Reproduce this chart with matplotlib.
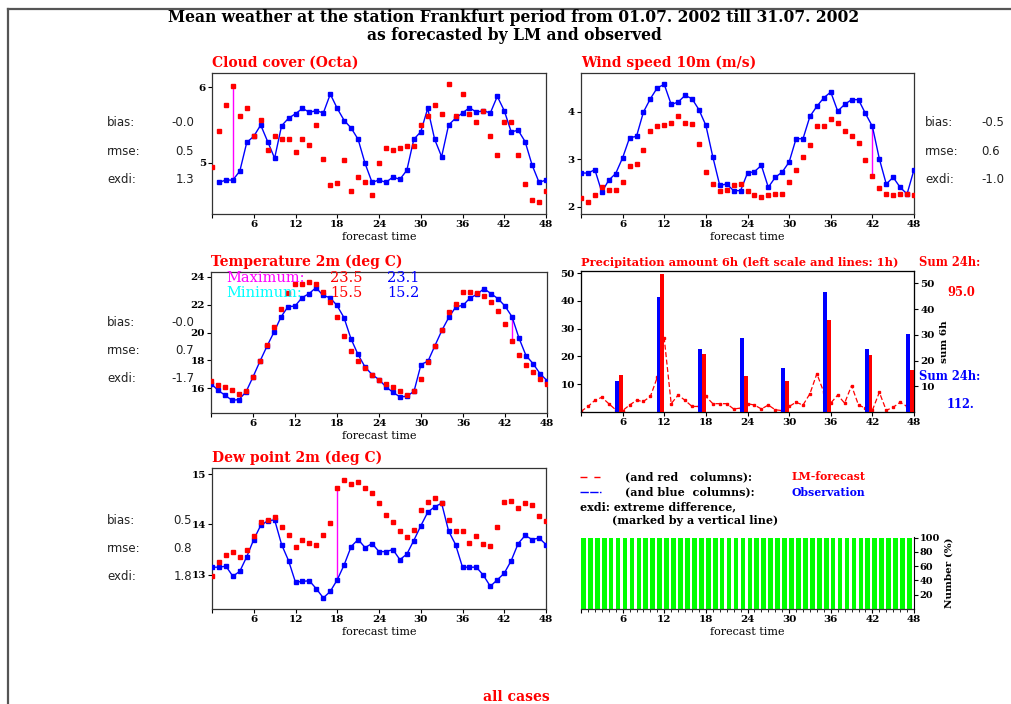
import numpy as np
import matplotlib.pyplot as plt
from matplotlib.lines import Line2D

nan = np.nan
hours = np.arange(49)

# observation (blue) and LM forecast (red), hourly means
cloud_obs = [nan, 4.74, 4.77, 4.77, 4.89, 5.27, 5.35, 5.50, 5.28, 5.06, 5.49, 5.59, 5.65, 5.72, 5.67, 5.69, 5.66,
             5.91, 5.72, 5.56, 5.46, 5.31, 4.99, 4.74, 4.77, 4.74, 4.81, 4.78, 4.90, 5.31, 5.41, 5.72, 5.31, 5.08,
             5.50, 5.59, 5.66, 5.73, 5.67, 5.69, 5.66, 5.88, 5.69, 5.41, 5.43, 5.28, 4.97, 4.74, 4.77]
cloud_fc = [4.94, 5.42, 5.76, 6.02, 5.62, 5.73, 5.36, 5.57, 5.17, 5.35, 5.31, 5.32, 5.14, 5.31, 5.23, 5.50, 5.05,
            4.70, 4.73, 5.04, 4.62, 4.81, 4.75, 4.57, 4.99, 5.19, 5.17, 5.19, 5.22, 5.22, 5.50, 5.62, 5.77, 5.65,
            6.04, 5.62, 5.91, 5.64, 5.54, 5.68, 5.35, 5.10, 5.54, 5.54, 5.10, 4.72, 4.50, 4.48, 4.62]

wind_obs = [2.71, 2.71, 2.78, 2.31, 2.56, 2.70, 3.03, 3.45, 3.48, 3.99, 4.27, 4.50, 4.57, 4.15, 4.20, 4.34, 4.27,
            4.04, 3.71, 3.05, 2.45, 2.48, 2.34, 2.34, 2.71, 2.74, 2.87, 2.41, 2.62, 2.73, 2.94, 3.43, 3.43, 3.90,
            4.11, 4.29, 4.41, 4.01, 4.15, 4.25, 4.25, 3.96, 3.69, 3.01, 2.48, 2.62, 2.41, 2.27, 2.78]
wind_fc = [2.19, 2.10, 2.24, 2.42, 2.36, 2.36, 2.52, 2.85, 2.90, 3.19, 3.59, 3.69, 3.71, 3.76, 3.90, 3.76, 3.73,
           3.31, 2.74, 2.47, 2.34, 2.36, 2.45, 2.48, 2.34, 2.24, 2.21, 2.24, 2.27, 2.27, 2.52, 2.77, 3.05, 3.29,
           3.69, 3.69, 3.85, 3.75, 3.59, 3.48, 3.34, 2.98, 2.64, 2.40, 2.27, 2.24, 2.27, 2.27, 2.24]

temp_obs = [16.34, 15.87, 15.51, 15.15, 15.20, 15.75, 16.82, 17.95, 19.02, 20.03, 21.11, 21.85, 21.89, 22.49,
            22.78, 23.21, 22.66, 22.49, 21.94, 21.06, 19.55, 18.43, 17.54, 16.99, 16.63, 16.11, 15.72, 15.39,
            15.44, 15.79, 17.71, 17.95, 19.07, 20.17, 21.11, 21.85, 21.94, 22.47, 22.73, 23.14, 22.78, 22.42,
            21.89, 21.13, 19.60, 18.35, 17.78, 17.06, 16.56]
temp_fc = [16.56, 16.27, 16.08, 15.87, 15.63, 15.79, 16.80, 17.95, 19.14, 20.41, 21.66, 22.85, 23.45, 23.45,
           23.64, 23.47, 22.92, 22.18, 21.13, 19.74, 18.67, 17.95, 17.47, 16.99, 16.63, 16.34, 16.11, 15.79,
           15.51, 15.79, 16.70, 17.88, 19.02, 20.15, 21.49, 22.06, 22.92, 22.92, 22.85, 22.61, 22.21, 21.54,
           20.58, 19.41, 18.40, 17.68, 17.16, 16.70, 16.32]

dew_obs = [13.15, 13.15, 13.17, 12.97, 13.07, 13.36, 13.70, 13.98, 14.07, 14.09, 13.60, 13.28, 12.85, 12.87,
           12.88, 12.72, 12.54, 12.67, 12.90, 13.20, 13.56, 13.70, 13.54, 13.62, 13.46, 13.46, 13.50, 13.30,
           13.41, 13.68, 13.97, 14.24, 14.35, 14.42, 13.87, 13.60, 13.15, 13.15, 13.15, 12.99, 12.77, 12.90,
           13.03, 13.28, 13.62, 13.78, 13.70, 13.73, 13.60]
dew_fc = [12.97, 13.26, 13.40, 13.46, 13.36, 13.50, 13.77, 14.04, 14.09, 14.14, 13.94, 13.78, 13.56, 13.70,
          13.63, 13.60, 13.79, 14.03, 14.72, 14.89, 14.81, 14.84, 14.72, 14.62, 14.42, 14.18, 14.04, 13.86,
          13.75, 13.89, 14.29, 14.44, 14.52, 14.42, 14.09, 13.86, 13.86, 13.64, 13.77, 13.62, 13.58, 13.95,
          14.44, 14.47, 14.32, 14.42, 14.39, 14.17, 14.07]

# hour of the extreme difference (magenta line)
cloud_exdi_hour = 3
wind_exdi_hour = 42
temp_exdi_hour = 43
dew_exdi_hour = 18

# statistics: bias, rmse, exdi
cloud_stats = ['-0.0', '0.5', '1.3']
wind_stats = ['-0.5', '0.6', '-1.0']
temp_stats = ['-0.0', '0.7', '-1.7']
dew_stats = ['0.5', '0.8', '1.8']

# precipitation
precip_1h_fc = [0.2, 2.0, 4.2, 5.3, 3.0, 0.8, 0.5, 2.5, 4.2, 3.8, 5.6, 12.5, 26.5, 3.0, 6.1, 4.2, 2.0, 2.0,
                5.6, 3.0, 3.0, 3.0, 1.1, 1.4, 3.0, 2.5, 1.1, 2.5, 0.8, 0.5, 2.0, 3.5, 2.5, 6.6, 13.8, 7.1,
                3.2, 6.1, 3.2, 9.5, 2.5, 1.4, 0.6, 7.1, 0.6, 1.7, 3.5, 2.0, 2.0]
sum_hours = [6, 12, 18, 24, 30, 36, 42, 48]
sum6h_obs = [12.2, 44.6, 24.6, 28.6, 17.1, 46.5, 24.6, 30.5]
sum6h_fc = [14.5, 53.8, 22.7, 14.1, 12.1, 35.9, 22.3, 16.4]
sum24h_fc = '95.0'
sum24h_obs = '112.'

# number of cases (%)
number_hours = np.arange(48)
number_pct = [100, 100, 100, 100, 100, 100, 100, 100, 100, 100, 100, 100, 100, 100, 100, 100,
              100, 100, 100, 100, 100, 100, 100, 100, 100, 100, 100, 100, 100, 100, 100, 100,
              100, 100, 100, 100, 100, 100, 100, 100, 100, 100, 100, 100, 100, 100, 100, 100]

temp_max = ['23.5', '23.1']
temp_min = ['15.5', '15.2']

W, H = 1011, 704
RED, BLUE, MAG = '#ff0000', '#0000ff', '#ff00ff'
SERIF = 'DejaVu Serif'

fig = plt.figure(figsize=(W / 100, H / 100), dpi=100)


def rect(l, t, r, b):
    return [l / W, 1 - b / H, (r - l) / W, (b - t) / H]


def ftext(x, y, s, **kw):
    kw.setdefault('va', 'center')
    fig.text(x / W, 1 - y / H, s, **kw)


def style_ax(ax, yticks, xlabel=True):
    ax.set_xlim(0, 48)
    ax.set_xticks(range(0, 49, 6))
    ax.set_xticklabels([''] + [str(v) for v in range(6, 49, 6)])
    ax.set_yticks(yticks)
    ax.tick_params(length=3, width=0.8, pad=1.5, labelsize=7.5)
    for lab in ax.get_xticklabels() + ax.get_yticklabels():
        lab.set_fontfamily(SERIF)
        lab.set_fontweight('bold')
    for sp in ax.spines.values():
        sp.set_linewidth(0.9)
        sp.set_color('#333333')
    if xlabel:
        ax.set_xlabel('forecast time', fontsize=8, family=SERIF, labelpad=2)


def series_panel(box, obs, fc, exdi_hour, ylim, yticks, title):
    ax = fig.add_axes(rect(*box))
    obs = np.array(obs, dtype=float)
    fc = np.array(fc, dtype=float)
    ax.plot(hours, obs, color=BLUE, lw=1.0, marker='s', ms=2.2, zorder=3)
    ax.plot(hours, fc, ls='none', color=RED, marker='s', ms=3.0, zorder=4)
    ax.vlines(exdi_hour, obs[exdi_hour], fc[exdi_hour], color=MAG, lw=1.0, zorder=2)
    ax.set_ylim(*ylim)
    style_ax(ax, yticks)
    ftext(box[0], box[1] - 10, title, color=RED, fontsize=10, family=SERIF, fontweight='bold')
    return ax


def stats(x_lab, x_val, y0, vals, ha='right'):
    for i, (lab, v) in enumerate(zip(['bias:', 'rmse:', 'exdi:'], vals)):
        ftext(x_lab, y0 + i * 28.3, lab, fontsize=8.5, color='#222222')
        ftext(x_val, y0 + i * 28.3, v, fontsize=8.5, color='#222222', ha=ha)


# frame and titles
fig.add_artist(Line2D([7.5 / W, 7.5 / W], [0, 1 - 9 / H], color='#555555', lw=1.6))
fig.add_artist(Line2D([7.5 / W, 1], [1 - 9 / H, 1 - 9 / H], color='#555555', lw=1.6))
ftext(514, 18, 'Mean weather at the station Frankfurt period from 01.07. 2002 till 31.07. 2002',
      ha='center', fontsize=11.2, family=SERIF, fontweight='bold')
ftext(514, 36, 'as forecasted by LM and observed', ha='center', fontsize=11.2, family=SERIF, fontweight='bold')

series_panel((212, 73, 546, 214), cloud_obs, cloud_fc, cloud_exdi_hour, (4.32, 6.19), [5, 6],
             'Cloud cover (Octa)')
stats(107, 194, 123, cloud_stats)

series_panel((581, 73, 914, 214), wind_obs, wind_fc, wind_exdi_hour, (1.85, 4.81), [2, 3, 4],
             'Wind speed 10m (m/s)')
stats(925, 981, 123, wind_stats, ha='left')

series_panel((211, 272, 547, 413), temp_obs, temp_fc, temp_exdi_hour, (14.24, 24.33), [16, 18, 20, 22, 24],
             'Temperature 2m (deg C)')
stats(107, 194, 322, temp_stats)
ftext(226, 278, 'Maximum:', color=MAG, fontsize=10.5, family=SERIF)
ftext(330, 278, temp_max[0], color=RED, fontsize=10.5, family=SERIF)
ftext(387, 278, temp_max[1], color=BLUE, fontsize=10.5, family=SERIF)
ftext(226, 293, 'Minimum:', color='#00ffff', fontsize=10.5, family=SERIF)
ftext(330, 293, temp_min[0], color=RED, fontsize=10.5, family=SERIF)
ftext(387, 293, temp_min[1], color=BLUE, fontsize=10.5, family=SERIF)

series_panel((212, 468, 546, 609), dew_obs, dew_fc, dew_exdi_hour, (12.32, 15.12), [13, 14, 15],
             'Dew point 2m (deg C)')
stats(107, 192, 520, dew_stats)

# precipitation panel
axp = fig.add_axes(rect(581, 271, 914, 412))
axp.plot(hours, precip_1h_fc, color=RED, lw=0.9, ls=(0, (4, 2)), marker='s', ms=1.8)
axp.set_ylim(0, 50.8)
style_ax(axp, [10, 20, 30, 40, 50], xlabel=False)
axs = axp.twinx()
sh = np.array(sum_hours)
axs.bar(sh - 1.1, sum6h_obs, width=0.55, align='edge', color=BLUE)
axs.bar(sh - 0.55, sum6h_fc, width=0.55, align='edge', color=RED)
axs.set_ylim(0, 54.8)
axs.set_yticks([10, 20, 30, 40, 50])
axs.tick_params(length=3, width=0.8, pad=1.5, labelsize=7.5)
for lab in axs.get_yticklabels():
    lab.set_fontfamily(SERIF)
    lab.set_fontweight('bold')
axs.set_ylabel('sum 6h', rotation=90, fontsize=7.5, family=SERIF, fontweight='bold', labelpad=4)
ftext(581, 263, 'Precipitation amount 6h (left scale and lines: 1h)', color=RED, fontsize=8.2,
      family=SERIF, fontweight='bold')
ftext(919, 263, 'Sum 24h:', color=RED, fontsize=8.3, family=SERIF, fontweight='bold')
ftext(947, 292, sum24h_fc, color=RED, fontsize=8.3, family=SERIF, fontweight='bold')
ftext(919, 377, 'Sum 24h:', color=BLUE, fontsize=8.3, family=SERIF, fontweight='bold')
ftext(947, 405, sum24h_obs, color=BLUE, fontsize=8.3, family=SERIF, fontweight='bold')

# legend text
fig.add_artist(Line2D([580 / W, 600 / W], [1 - 477 / H] * 2, color=RED, lw=1.0, ls=(0, (5, 5))))
fig.add_artist(Line2D([580 / W, 601 / W], [1 - 492 / H] * 2, color=BLUE, lw=1.0, ls=(0, (6, 1))))
ftext(625, 477, '(and red   columns):', fontsize=8, family=SERIF, fontweight='bold')
ftext(625, 492, '(and blue  columns):', fontsize=8, family=SERIF, fontweight='bold')
ftext(792, 477, 'LM-forecast', color=RED, fontsize=7.8, family=SERIF, fontweight='bold')
ftext(792, 492, 'Observation', color=BLUE, fontsize=7.8, family=SERIF, fontweight='bold')
ftext(580, 507, 'exdi: extreme difference,', fontsize=8, family=SERIF, fontweight='bold')
ftext(612, 521, '(marked by a vertical line)', fontsize=8, family=SERIF, fontweight='bold')

# number of cases panel
axn = fig.add_axes(rect(581, 537, 914, 609))
axn.bar(number_hours, number_pct, width=0.68, align='edge', color='#00ff00')
axn.set_ylim(0, 101)
style_ax(axn, [], xlabel=True)
axn.set_xticks(range(49), minor=True)
axn.tick_params(which='minor', length=2, width=0.6)
axn.spines['left'].set_visible(False)
axn.spines['top'].set_visible(False)
axn.spines['right'].set_visible(False)
axr = axn.twinx()
axr.set_ylim(0, 101)
axr.set_yticks([20, 40, 60, 80, 100])
axr.tick_params(length=3, width=0.8, pad=1, labelsize=7)
for lab in axr.get_yticklabels():
    lab.set_fontfamily(SERIF)
    lab.set_fontweight('bold')
for s in ['left', 'top', 'bottom']:
    axr.spines[s].set_visible(False)
axr.set_ylabel('Number (%)', rotation=90, fontsize=7.5, family=SERIF, fontweight='bold', labelpad=3)

ftext(516, 697, 'all cases', ha='center', color=RED, fontsize=10, family=SERIF, fontweight='bold')

plt.savefig('out.png', dpi=100)
